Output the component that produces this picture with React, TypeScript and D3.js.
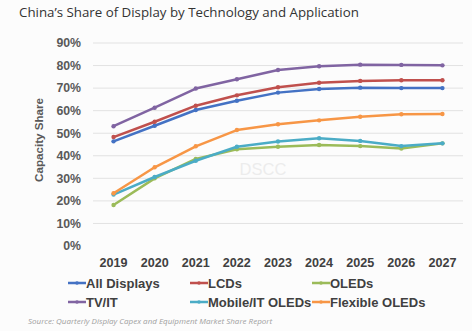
import React from "react";
import * as d3 from "d3";

const years = ["2019", "2020", "2021", "2022", "2023", "2024", "2025", "2026", "2027"];
const yTicks = [0, 10, 20, 30, 40, 50, 60, 70, 80, 90];

const allDisplays = [46.4, 53.3, 60.3, 64.4, 68.0, 69.6, 70.2, 70.0, 70.0];
const lcds = [48.3, 55.1, 62.2, 66.8, 70.4, 72.4, 73.2, 73.5, 73.5];
const oleds = [18.2, 30.0, 38.6, 42.9, 44.0, 44.8, 44.3, 43.2, 45.5];
const tvIt = [53.1, 61.3, 69.8, 73.9, 78.0, 79.7, 80.4, 80.3, 80.1];
const mobileItOleds = [22.8, 30.6, 37.8, 44.0, 46.3, 47.8, 46.6, 44.3, 45.5];
const flexibleOleds = [23.4, 34.9, 44.2, 51.4, 54.0, 55.7, 57.3, 58.4, 58.5];

const seriesNames = ["All Displays", "LCDs", "OLEDs", "TV/IT", "Mobile/IT OLEDs", "Flexible OLEDs"];
const seriesValues = [allDisplays, lcds, oleds, tvIt, mobileItOleds, flexibleOleds];
const seriesColors = ["#4472C4", "#C0504D", "#9BBB59", "#8064A2", "#4BACC6", "#F79646"];
// draw order (back to front)
const drawOrder = [2, 4, 5, 0, 1, 3];

export default function App() {
  const W = 472, H = 331;
  const x = d3.scaleBand<string>().domain(years).range([93, 463]);
  const y = d3.scaleLinear().domain([0, 90]).range([246, 43]);
  const line = d3
    .line<number>()
    .x((_, i) => (x(years[i]) as number) + x.bandwidth() / 2)
    .y((d) => y(d));

  const legendCols = [68, 190, 312];
  const legendRows = [283, 302];

  return (
    <svg width={W} height={H} style={{ position: "absolute", left: 0, top: 0, background: "#fcfcfc" }}>
      <rect width={W} height={H} fill="#fcfcfc" />
      <text x={19} y={17} fontFamily="Open Sans" fontSize={13.3} fill="#333" fontWeight={500}>
        China’s Share of Display by Technology and Application
      </text>
      {yTicks.map((t) => (
        <g key={t}>
          {t > 0 && <line x1={93} x2={463} y1={y(t)} y2={y(t)} stroke="#e2e2e2" strokeWidth={1} />}
          <text x={81} y={y(t) + 4.3} textAnchor="end" fontFamily="Liberation Sans" fontWeight="bold" fontSize={12.3} fill="#595959">
            {t}%
          </text>
        </g>
      ))}
      <text
        transform={`translate(43,140) rotate(-90)`}
        textAnchor="middle"
        fontFamily="Liberation Sans"
        fontWeight="bold"
        fontSize={11.6}
        fill="#595959"
      >
        Capacity Share
      </text>
      <text x={263} y={175} textAnchor="middle" fontFamily="Liberation Sans" fontSize={16.5} fill="#ececec">
        DSCC
      </text>
      {years.map((yr) => (
        <text
          key={yr}
          x={(x(yr) as number) + x.bandwidth() / 2}
          y={267}
          textAnchor="middle"
          fontFamily="Liberation Sans"
          fontWeight="bold"
          fontSize={12.6}
          fill="#404040"
        >
          {yr}
        </text>
      ))}
      {drawOrder.map((si) => (
        <g key={si}>
          <path d={line(seriesValues[si]) || ""} fill="none" stroke={seriesColors[si]} strokeWidth={2.5} strokeLinejoin="round" />
          {seriesValues[si].map((v, i) => (
            <circle key={i} cx={(x(years[i]) as number) + x.bandwidth() / 2} cy={y(v)} r={2.2} fill={seriesColors[si]} />
          ))}
        </g>
      ))}
      {seriesNames.map((n, i) => {
        const cx = legendCols[i % 3];
        const cy = legendRows[Math.floor(i / 3)];
        return (
          <g key={n}>
            <line x1={cx} x2={cx + 18} y1={cy} y2={cy} stroke={seriesColors[i]} strokeWidth={2.5} />
            <circle cx={cx + 9} cy={cy} r={1.8} fill={seriesColors[i]} />
            <text x={cx + 18} y={cy + 4.5} fontFamily="Liberation Sans" fontWeight="bold" fontSize={13} fill="#404040">
              {n}
            </text>
          </g>
        );
      })}
      <text x={28} y={324} fontFamily="Open Sans" fontStyle="italic" fontSize={8} fill="#a0a0a0">
        Source: Quarterly Display Capex and Equipment Market Share Report
      </text>
    </svg>
  );
}
